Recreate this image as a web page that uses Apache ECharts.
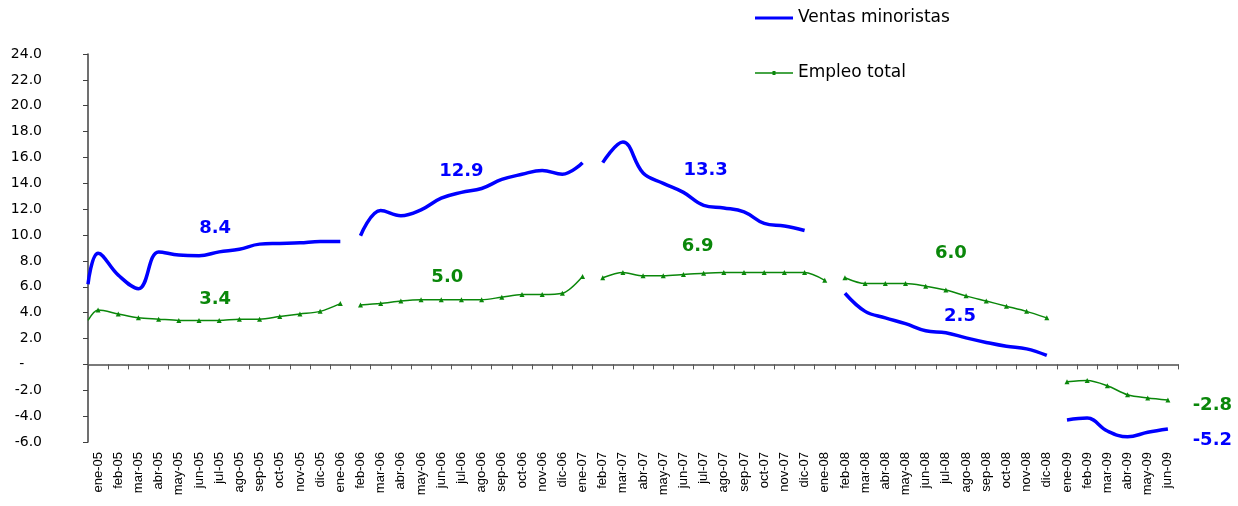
<!DOCTYPE html>
<html>
<head>
<meta charset="utf-8">
<script src="https://cdn.jsdelivr.net/npm/echarts@6/dist/echarts.min.js"></script>
<style>
  html, body { margin: 0; padding: 0; background: #fff; }
  #chart { width: 1238px; height: 506px; }
</style>
</head>
<body>
<div id="chart"></div>
<script>
// meses del eje (ene-05 .. jun-09)
const months = [
  "ene-05", "feb-05", "mar-05", "abr-05", "may-05", "jun-05", "jul-05", "ago-05", "sep-05", "oct-05", "nov-05", "dic-05",
  "ene-06", "feb-06", "mar-06", "abr-06", "may-06", "jun-06", "jul-06", "ago-06", "sep-06", "oct-06", "nov-06", "dic-06",
  "ene-07", "feb-07", "mar-07", "abr-07", "may-07", "jun-07", "jul-07", "ago-07", "sep-07", "oct-07", "nov-07", "dic-07",
  "ene-08", "feb-08", "mar-08", "abr-08", "may-08", "jun-08", "jul-08", "ago-08", "sep-08", "oct-08", "nov-08", "dic-08",
  "ene-09", "feb-09", "mar-09", "abr-09", "may-09", "jun-09"
];

// Ventas minoristas (% a/a), null = sin dato
const ventas = [
  8.6, 6.9, 5.85, 8.7, 8.45, 8.4, 8.7, 8.9, 9.3, 9.35, 9.4, 9.5,
  9.5, 9.95, 11.9, 11.5, 11.95, 12.85, 13.3, 13.6, 14.3, 14.7, 15.0, 14.7,
  15.6, 15.6, 17.2, 14.8, 14.0, 13.3, 12.3, 12.1, 11.8, 10.9, 10.7, 10.35,
  null, 5.5, 4.1, 3.6, 3.15, 2.6, 2.45, 2.05, 1.7, 1.4, 1.2, 0.7,
  -4.3, -4.15, -5.15, -5.6, -5.25, -5.0
];
const ventasStart = 6.2;

// Empleo total (% a/a)
const empleo = [
  4.2, 3.9, 3.6, 3.5, 3.4, 3.4, 3.4, 3.5, 3.5, 3.7, 3.9, 4.1,
  4.7, 4.6, 4.7, 4.9, 5.0, 5.0, 5.0, 5.0, 5.2, 5.4, 5.4, 5.5,
  6.8, 6.7, 7.1, 6.85, 6.85, 6.95, 7.05, 7.1, 7.1, 7.1, 7.1, 7.1,
  6.5, 6.7, 6.25, 6.25, 6.25, 6.05, 5.75, 5.3, 4.9, 4.5, 4.1, 3.6,
  -1.35, -1.25, -1.65, -2.35, -2.6, -2.75
];
const empleoStart = 3.4;

// la linea se corta despues de estos meses
const breaks = [12, 24, 36, 47];

// etiquetas de promedio por tramo
const ventasNotes = ["8.4", "12.9", "13.3", "2.5", "-5.2"];
const empleoNotes = ["3.4", "5.0", "6.9", "6.0", "-2.8"];
const ventasNoteAt = [[6.3, 10.5], [18.5, 14.9], [30.6, 15.0], [43.2, 3.75], [55.7, -5.85]];
const empleoNoteAt = [[6.3, 5.0], [17.8, 6.75], [30.2, 9.1], [42.75, 8.6], [55.7, -3.2]];

const BLUE = "#0000ff";
const GREEN = "#0a870a";

function buildPoints(values, start) {
  const pts = [{ value: [0, start], symbol: "none" }];
  values.forEach((v, i) => {
    pts.push([i + 0.5, v === null ? "-" : v]);
    if (breaks.includes(i)) pts.push([i + 1, "-"]);
  });
  return pts;
}

const chart = echarts.init(document.getElementById("chart"));
chart.setOption({
  animation: false,
  backgroundColor: "#fff",
  grid: { left: 88, right: 60, top: 54, bottom: 64, containLabel: false, outerBoundsMode: "none" },
  legend: {
    data: [
      { name: "Ventas minoristas", icon: "path://M0,0 L38,0 L38,3 L0,3 Z" },
      { name: "Empleo total", icon: "path://M0,3 L38,3 L38,4.5 L0,4.5 Z M17.5,1.8 L20.5,1.8 L20.5,5.7 L17.5,5.7 Z" }
    ],
    orient: "vertical",
    left: 755,
    top: 8,
    padding: 0,
    itemWidth: 38,
    itemHeight: 12,
    itemGap: 35,
    textStyle: { fontFamily: "DejaVu Sans", fontSize: 17, color: "#000", lineHeight: 20 }
  },
  xAxis: [
    {
      type: "value",
      min: 0,
      max: 54,
      interval: 1,
      axisLine: { show: true, onZero: true, lineStyle: { color: "#7a7a7a", width: 2 } },
      axisTick: { show: true, inside: false, length: 5, lineStyle: { color: "#555", width: 1 } },
      axisLabel: { show: false },
      splitLine: { show: false }
    },
    {
      type: "category",
      data: months,
      boundaryGap: true,
      position: "bottom",
      axisLine: { show: false, onZero: false },
      axisTick: { show: false },
      splitLine: { show: false },
      axisLabel: {
        rotate: 90,
        margin: 10,
        interval: 0,
        color: "#000",
        fontFamily: "Liberation Sans",
        fontSize: 13
      }
    }
  ],
  yAxis: {
    type: "value",
    min: -6,
    max: 24,
    interval: 2,
    axisLine: { show: true, lineStyle: { color: "#404040", width: 1.5 } },
    axisTick: { show: true, inside: false, length: 5, lineStyle: { color: "#404040" } },
    splitLine: { show: false },
    axisLabel: {
      margin: 46,
      color: "#000",
      fontFamily: "DejaVu Sans",
      fontSize: 14,
      formatter: (v) => (v === 0 ? "-    " : v.toFixed(1))
    }
  },
  series: [
    {
      name: "Ventas minoristas",
      type: "line",
      xAxisIndex: 0,
      data: buildPoints(ventas, ventasStart),
      smooth: 0.4,
      connectNulls: false,
      showSymbol: false,
      symbol: "none",
      lineStyle: { color: BLUE, width: 3.5 },
      itemStyle: { color: BLUE }
    },
    {
      name: "Empleo total",
      type: "line",
      xAxisIndex: 0,
      data: buildPoints(empleo, empleoStart),
      smooth: 0.3,
      connectNulls: false,
      showSymbol: true,
      symbol: "triangle",
      symbolSize: 5,
      lineStyle: { color: GREEN, width: 1.5 },
      itemStyle: { color: GREEN }
    }
  ]
});

// etiquetas de promedio, ubicadas con la escala del grafico (algunas caen fuera del area)
function noteTexts(labels, at, color) {
  return labels.map((t, k) => {
    const p = chart.convertToPixel({ xAxisIndex: 0, yAxisIndex: 0 }, at[k]);
    return {
      type: "text",
      x: p[0],
      y: p[1],
      silent: true,
      style: {
        text: t,
        fill: color,
        font: "bold 18px 'DejaVu Sans'",
        textAlign: "center",
        textVerticalAlign: "middle"
      }
    };
  });
}
chart.setOption({
  graphic: noteTexts(ventasNotes, ventasNoteAt, BLUE).concat(noteTexts(empleoNotes, empleoNoteAt, GREEN))
});
</script>
</body>
</html>
